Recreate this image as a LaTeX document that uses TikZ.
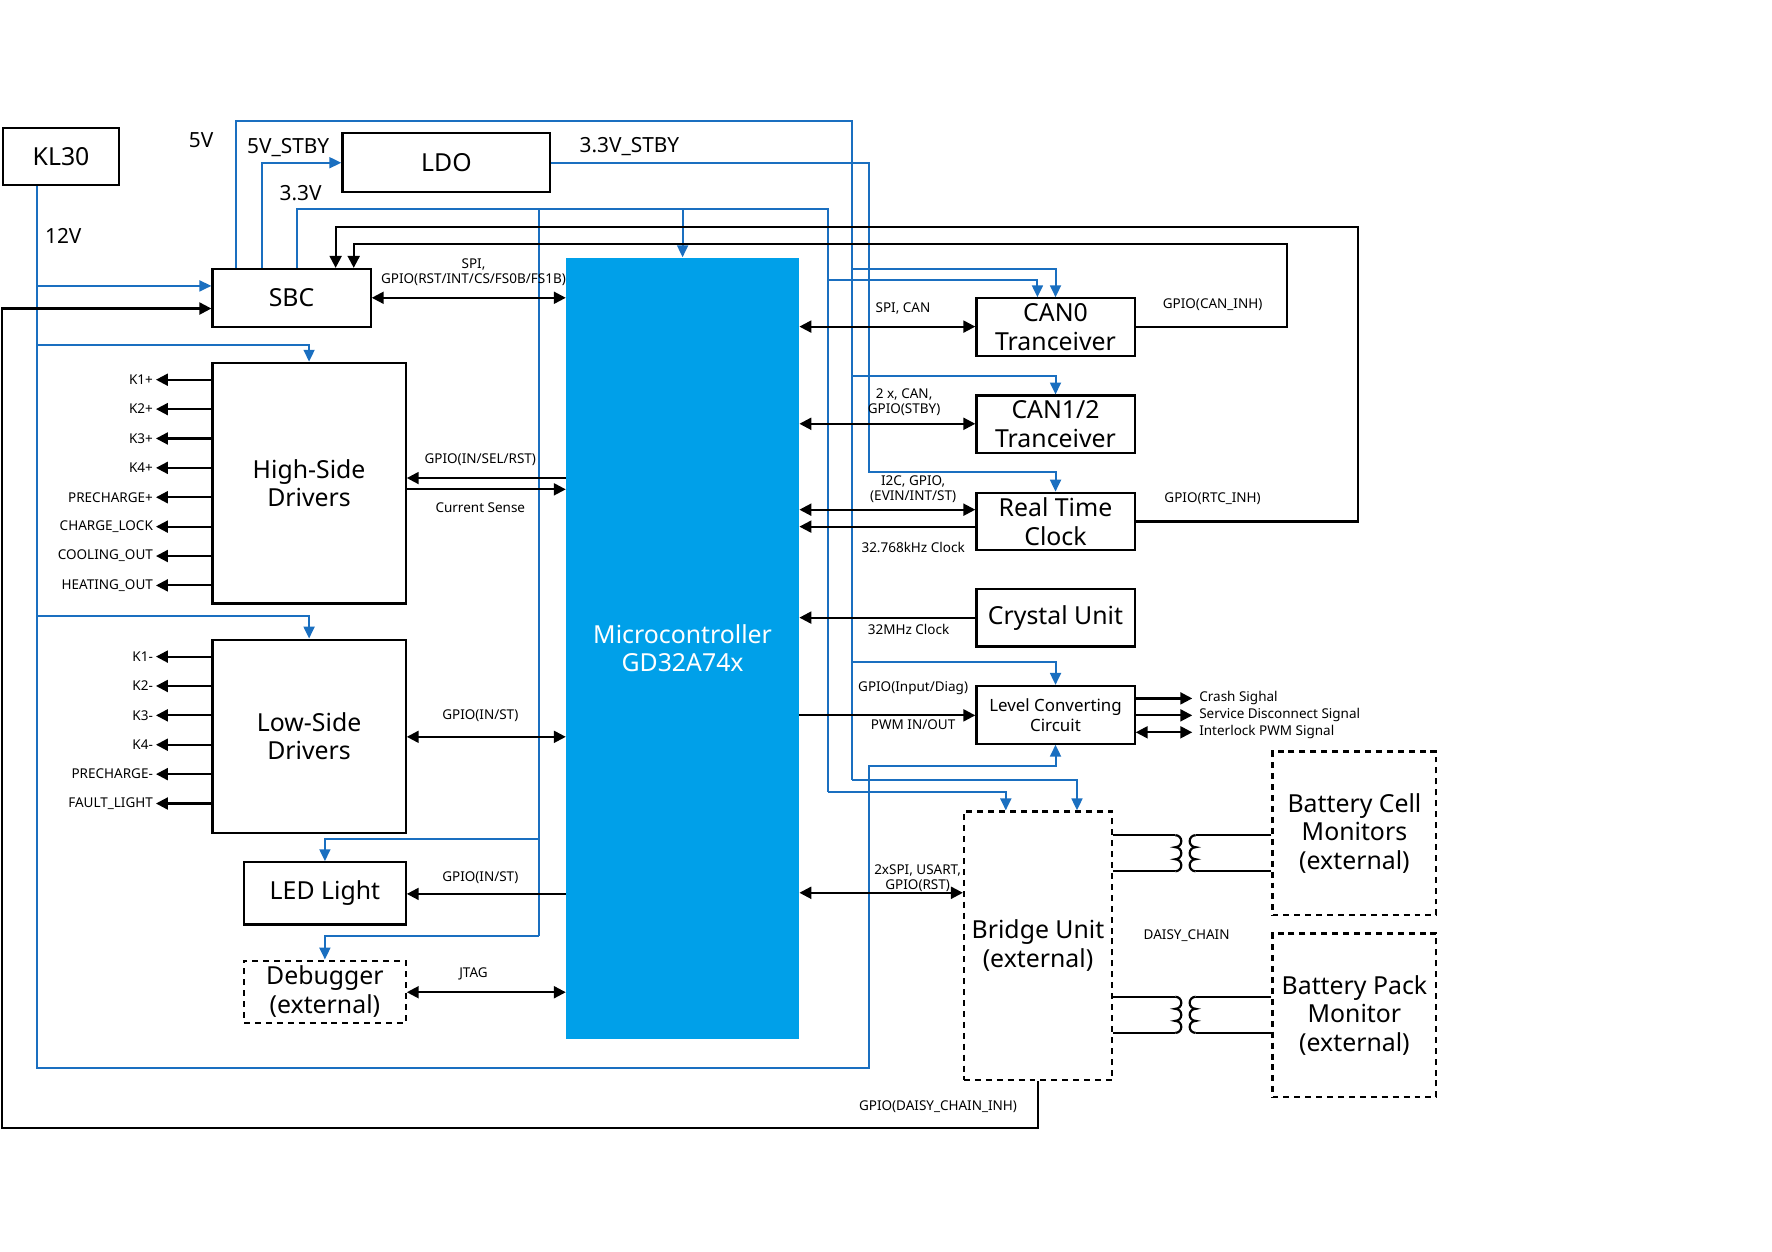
\documentclass[tikz,border=0pt]{standalone}
\usepackage{fontspec}
\setmainfont{Noto Sans}
\usepackage{tikz}
\usetikzlibrary{arrows.meta,positioning,calc}
\definecolor{pwr}{HTML}{1A6FC0}
\definecolor{mcufill}{HTML}{00A0E9}
\tikzset{
  box/.style={draw, line width=1.1pt, inner sep=0pt, align=center, font=\fontsize{12.5}{14.5}\selectfont},
  ext/.style={box, dash pattern=on 3pt off 2.5pt},
  pw/.style={draw=pwr, line width=1pt, -{Triangle[length=6pt,width=5.5pt]}},
  bl/.style={draw=black, line width=1.1pt, -{Triangle[length=6pt,width=6pt]}},
  bi/.style={bl, {Triangle[length=6pt,width=6pt]}-{Triangle[length=6pt,width=6pt]}},
  tag/.style={font=\fontsize{6.8}{7.8}\selectfont, align=center, inner sep=1pt},
  rail/.style={font=\fontsize{10.5}{12}\selectfont, inner sep=1pt}
}
\newcommand\coilR[2]{\draw[bl,-] (#1,#2) arc[start angle=90,end angle=-90,radius=1.066mm] arc[start angle=90,end angle=-90,radius=1.066mm] arc[start angle=90,end angle=-90,radius=1.066mm];}
\newcommand\coilL[2]{\draw[bl,-] (#1,#2) arc[start angle=90,end angle=270,radius=1.066mm] arc[start angle=90,end angle=270,radius=1.066mm] arc[start angle=90,end angle=270,radius=1.066mm];}
\begin{document}
\begin{tikzpicture}[x=0.2mm,y=-0.2mm]
    \useasboundingbox (0,0) rectangle (1568,1107);
    % blocks
    \node (kl) at (54,138.5) [box, minimum width=20.4mm, minimum height=10.2mm] {KL30};
    \node (ldo) at (395,144) [box, minimum width=36.8mm, minimum height=10.4mm] {LDO};
    \node (sbc) at (258,263.5) [box, minimum width=28mm, minimum height=10.2mm] {SBC};
    \node (mcu) at (604,573.5) [fill=mcufill, text=white, inner sep=0pt, align=center, minimum width=41.2mm, minimum height=138.2mm, font=\fontsize{12.5}{14.5}\selectfont] {Microcontroller\\GD32A74x};
    \node (hsd) at (273.5,427.5) [box, minimum width=34.2mm, minimum height=42.6mm] {High-Side\\Drivers};
    \node (lsd) at (273.5,651.5) [box, minimum width=34.2mm, minimum height=34.2mm] {Low-Side\\Drivers};
    \node (led) at (287.5,790.5) [box, minimum width=28.6mm, minimum height=11mm] {LED Light};
    \node (dbg) at (287.5,877.5) [ext, minimum width=28.6mm, minimum height=11mm] {Debugger\\(external)};
    \node (can0) at (934,289.5) [box, minimum width=28mm, minimum height=10.2mm] {CAN0\\Tranceiver};
    \node (can12) at (934,375.5) [box, minimum width=28mm, minimum height=10.2mm] {CAN1/2\\Tranceiver};
    \node (rtc) at (934,461.5) [box, minimum width=28mm, minimum height=10.2mm] {Real Time\\Clock};
    \node (xtal) at (934,546.5) [box, minimum width=28mm, minimum height=10.2mm] {Crystal Unit};
    \node (lc) at (934,632.5) [box, minimum width=28mm, minimum height=10.2mm, font=\fontsize{8.5}{10}\selectfont] {Level Converting\\Circuit};
    \node (bridge) at (918.5,837) [ext, minimum width=26.2mm, minimum height=47.6mm] {Bridge Unit\\(external)};
    \node (bcm) at (1198.5,737.5) [ext, minimum width=29mm, minimum height=29mm] {Battery Cell\\Monitors\\(external)};
    \node (bpm) at (1198.5,898.5) [ext, minimum width=29mm, minimum height=29mm] {Battery Pack\\Monitor\\(external)};

    % supply rails
    \node (r12) at (56,209) [rail] {12V};
    \node (r5) at (178,124) [rail] {5V};
    \node (r5s) at (255,131) [rail] {5V\_STBY};
    \node (r33) at (266,171) [rail] {3.3V};
    \node (r33s) at (557,130) [rail] {3.3V\_STBY};
    \draw[pw] (kl.south-|33,0) -- (33,945) -| (769,678) -| (lc.south);
    \draw[pw] (33,253) -- (sbc.west|-0,253);
    \draw[pw] (33,305) -| (hsd.north);
    \draw[pw] (33,545) -| (lsd.north);
    \draw[pw,-] (sbc.north-|209,0) |- (754,107) -- (754,690);
    \draw[pw] (754,238) -| (can0.north);
    \draw[pw] (754,333) -| (can12.north);
    \draw[pw] (754,586) -| (lc.north);
    \draw[pw] (754,690) -| (bridge.north-|953,0);
    \draw[pw,-] (sbc.north-|263,0) |- (733,185) -- (733,701);
    \draw[pw] (604,185) -- (mcu.north);
    \draw[pw,-] (477,185) -- (477,828);
    \draw[pw] (477,742) -| (led.north);
    \draw[pw] (477,828) -| (dbg.north);
    \draw[pw] (733,248) -| (can0.north-|918,0);
    \draw[pw] (733,701) -| (bridge.north-|890,0);
    \draw[pw] (sbc.north-|232,0) |- (ldo.west);
    \draw[pw] (ldo.east) -| (769,418) -| (rtc.north);

    % inhibit lines
    \draw[bl] (can0.east) -| (1139,216) -| (sbc.north-|313,0);
    \draw[bl] (rtc.east) -| (1202,201) -| (sbc.north-|297,0);
    \draw[bl] (bridge.south) |- (2,998) |- (sbc.west|-0,273);
    \node (tcan) at (1073,270) [tag] {GPIO(CAN\_INH)};
    \node (trtc) at (1073,441) [tag] {GPIO(RTC\_INH)};
    \node (tdc) at (830,979) [tag] {GPIO(DAISY\_CHAIN\_INH)};

    % left side buses
    \draw[bi] (sbc.east) -- (mcu.west|-sbc.east);
    \node (tsbc) at (419,241) [tag] {SPI,\\GPIO(RST/INT/CS/FS0B/FS1B)};
    \draw[bl] (mcu.west|-0,423) -- (hsd.east|-0,423);
    \draw[bl] (hsd.east|-0,433) -- (mcu.west|-0,433);
    \node (thsd) at (425,407) [tag] {GPIO(IN/SEL/RST)};
    \node (tcs) at (425,449) [tag] {Current Sense};
    \draw[bi] (lsd.east|-0,652) -- (mcu.west|-0,652);
    \node (tlsd) at (425,633) [tag] {GPIO(IN/ST)};
    \draw[bl] (mcu.west|-0,791) -- (led.east|-0,791);
    \node (tled) at (425,777) [tag] {GPIO(IN/ST)};
    \draw[bi] (dbg.east|-0,878) -- (mcu.west|-0,878);
    \node (tdbg) at (419,862) [tag] {JTAG};
    \foreach \y/\t [count=\i] in {336/K1+,362/K2+,388/K3+,414/K4+,440/PRECHARGE+,466/CHARGE\_LOCK,492/COOLING\_OUT,518/HEATING\_OUT}
        \draw[bl] (hsd.west|-0,\y) -- (138,\y) node (hk\i) [tag, left] {\t};
    \foreach \y/\t [count=\i] in {581/K1-,607/K2-,633/K3-,659/K4-,685/PRECHARGE-,711/FAULT\_LIGHT}
        \draw[bl] (lsd.west|-0,\y) -- (138,\y) node (lk\i) [tag, left] {\t};

    % right side buses
    \draw[bi] (mcu.east|-0,289) -- (can0.west|-0,289);
    \node (tc0) at (799,273) [tag] {SPI, CAN};
    \draw[bi] (mcu.east|-0,375) -- (can12.west|-0,375);
    \node (tc12) at (800,356) [tag] {2 x, CAN,\\GPIO(STBY)};
    \draw[bi] (mcu.east|-0,451) -- (rtc.west|-0,451);
    \draw[bl] (rtc.west|-0,466) -- (mcu.east|-0,466);
    \node (trt) at (808,433) [tag] {I2C, GPIO,\\(EVIN/INT/ST)};
    \node (tclk) at (808,484) [tag] {32.768kHz Clock};
    \draw[bl] (xtal.west) -- (mcu.east|-xtal.west);
    \node (txt) at (804,557) [tag] {32MHz Clock};
    \draw[bl] (mcu.east|-0,633) -- (lc.west|-0,633);
    \node (tlc1) at (808,609) [tag] {GPIO(Input/Diag)};
    \node (tlc2) at (808,641) [tag] {PWM IN/OUT};
    \draw[bl] (lc.east|-0,618) -- (1055,618) node (lo1) [tag, right=2pt] {Crash Sighal};
    \draw[bl] (lc.east|-0,633) -- (1055,633) node (lo2) [tag, right=2pt] {Service Disconnect Signal};
    \draw[bi] (lc.east|-0,648) -- (1055,648) node (lo3) [tag, right=2pt] {Interlock PWM Signal};
    \draw[bi] (mcu.east|-0,790) -- (bridge.west|-0,790);
    \node (tbr) at (812,777) [tag] {2xSPI, USART,\\GPIO(RST)};

    % daisy chain
    \draw[bl,-] (bridge.east|-0,739) -- (1040,739);
    \coilR{1040}{739}
    \draw[bl,-] (1040,771) -- (bridge.east|-0,771);
    \draw[bl,-] (bcm.west|-0,739) -- (1058,739);
    \coilL{1058}{739}
    \draw[bl,-] (1058,771) -- (bcm.west|-0,771);
    \draw[bl,-] (bridge.east|-0,882) -- (1040,882);
    \coilR{1040}{882}
    \draw[bl,-] (1040,914) -- (bridge.east|-0,914);
    \draw[bl,-] (bpm.west|-0,882) -- (1058,882);
    \coilL{1058}{882}
    \draw[bl,-] (1058,914) -- (bpm.west|-0,914);
    \node (tdaisy) at (1050,828) [tag] {DAISY\_CHAIN};
\end{tikzpicture}
\end{document}
